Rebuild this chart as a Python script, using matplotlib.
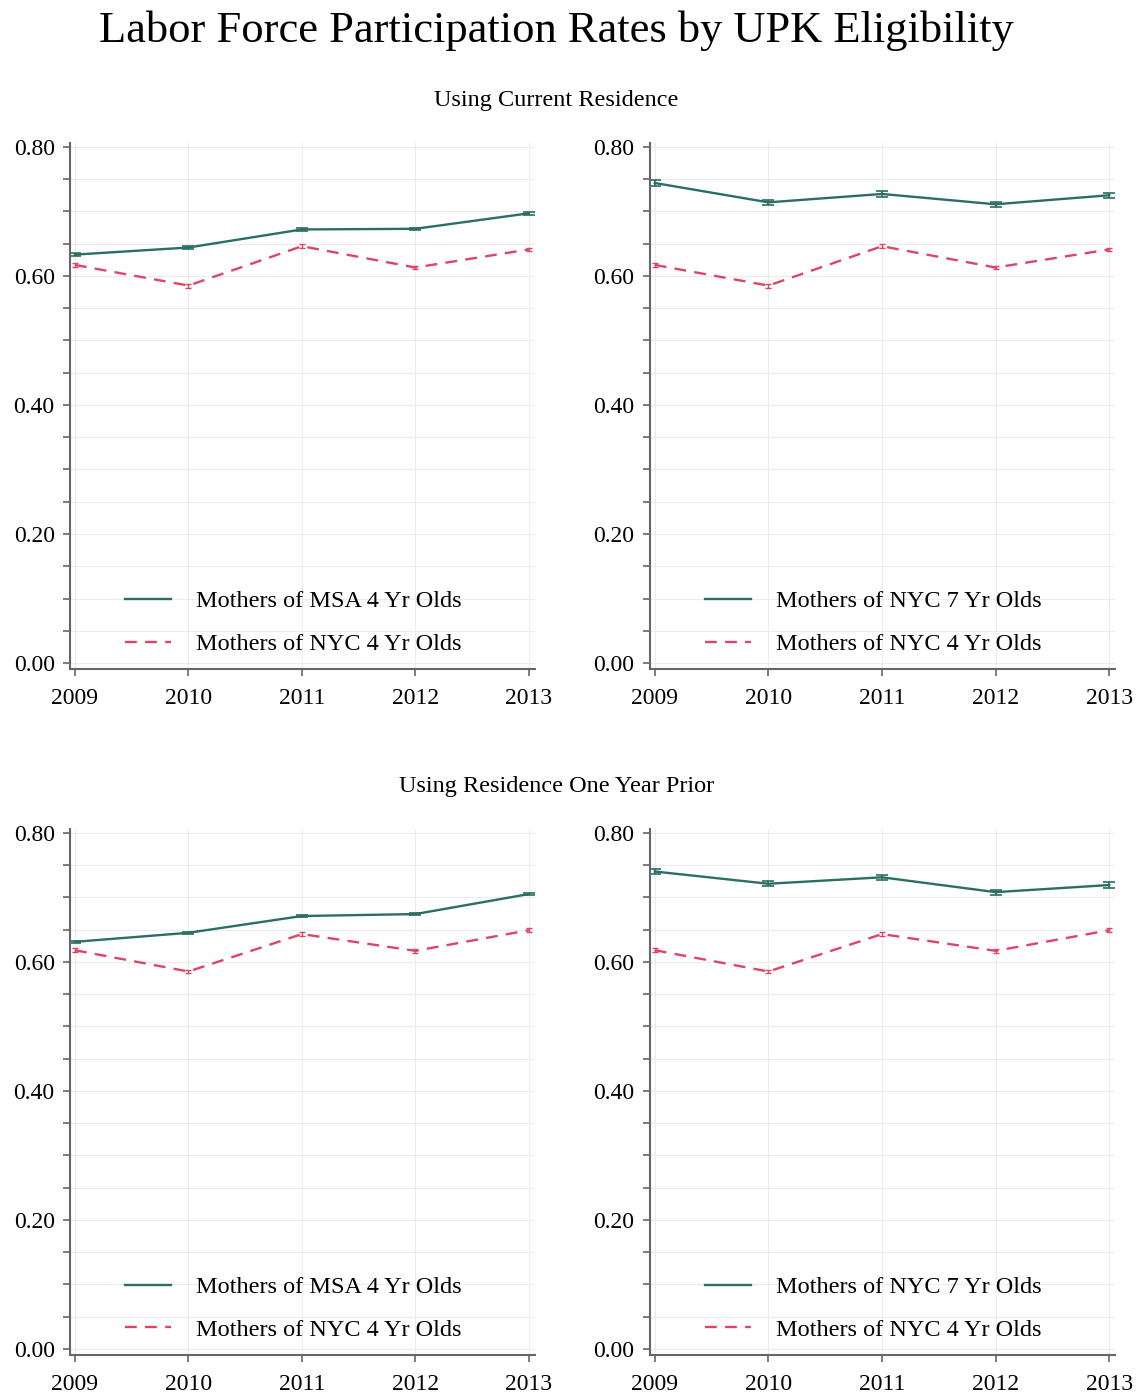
import numpy as np
import matplotlib
matplotlib.use("Agg")
import matplotlib.pyplot as plt

plt.rcParams['font.family'] = ['Liberation Serif', 'DejaVu Serif']

years = [2009, 2010, 2011, 2012, 2013]

# Using current residence
cur_msa4 = [0.633, 0.644, 0.672, 0.673, 0.697]
cur_nyc7 = [0.744, 0.714, 0.727, 0.711, 0.725]
cur_nyc4 = [0.617, 0.585, 0.646, 0.613, 0.641]

# Using residence one year prior
pri_msa4 = [0.631, 0.645, 0.671, 0.674, 0.705]
pri_nyc7 = [0.740, 0.721, 0.731, 0.708, 0.719]
pri_nyc4 = [0.618, 0.585, 0.643, 0.617, 0.649]

# approximate standard errors (half-widths of the bars)
err_msa4 = [0.002, 0.002, 0.002, 0.002, 0.002]
err_nyc7 = [0.004, 0.004, 0.004, 0.004, 0.004]
err_nyc4 = [0.003, 0.003, 0.003, 0.003, 0.003]

teal = '#2b6e64'
red = '#de4564'
spine_col = '#666666'

fig = plt.figure(figsize=(11.38, 13.95), dpi=100)

fig.text(0.489, 0.978, 'Labor Force Participation Rates by UPK Eligibility',
         ha='center', va='center', fontsize=32)
fig.text(0.489, 0.928, 'Using Current Residence', ha='center', va='center', fontsize=17.5)
fig.text(0.489, 0.436, 'Using Residence One Year Prior', ha='center', va='center', fontsize=17.5)

rects = [
    [0.0615, 0.5204, 0.4085, 0.3771],
    [0.571, 0.5204, 0.409, 0.3771],
    [0.0615, 0.0287, 0.4085, 0.3771],
    [0.571, 0.0287, 0.409, 0.3771],
]
panels = [
    (cur_msa4, err_msa4, 'Mothers of MSA 4 Yr Olds', cur_nyc4),
    (cur_nyc7, err_nyc7, 'Mothers of NYC 7 Yr Olds', cur_nyc4),
    (pri_msa4, err_msa4, 'Mothers of MSA 4 Yr Olds', pri_nyc4),
    (pri_nyc7, err_nyc7, 'Mothers of NYC 7 Yr Olds', pri_nyc4),
]

for rect, (treat, terr, tlabel, nyc4) in zip(rects, panels):
    ax = fig.add_axes(rect)
    ax.errorbar(years, treat, yerr=terr, color=teal, lw=1.7, capsize=4,
                elinewidth=1.2, capthick=1.2, label=tlabel)
    ax.errorbar(years, nyc4, yerr=err_nyc4, color=red, lw=1.7, capsize=2.5,
                elinewidth=1.0, capthick=1.0, dashes=(5, 3.5),
                label='Mothers of NYC 4 Yr Olds')

    ax.set_xlim(2008.956, 2013.053)
    ax.set_ylim(-0.0093, 0.806)
    ax.set_xticks(years)
    ax.set_xticklabels([str(y) for y in years])
    ax.set_yticks([0.0, 0.2, 0.4, 0.6, 0.8])
    ax.set_yticklabels(['0.00', '0.20', '0.40', '0.60', '0.80'])
    ax.set_yticks(np.arange(0.05, 0.8, 0.05), minor=True)

    ax.grid(True, which='both', color='#ececec', lw=0.8)
    ax.set_axisbelow(True)
    for side in ['top', 'right']:
        ax.spines[side].set_visible(False)
    for side in ['left', 'bottom']:
        ax.spines[side].set_color(spine_col)
        ax.spines[side].set_linewidth(1.5)
    ax.tick_params(axis='both', which='both', direction='out', length=5,
                   width=1.2, color=spine_col, labelsize=17, pad=6)
    ax.tick_params(axis='x', pad=9)

    handles, labels = ax.get_legend_handles_labels()
    handles = [h[0] for h in handles]
    ax.legend(handles, labels, loc='lower center', bbox_to_anchor=(0.48, -0.015),
              frameon=False, fontsize=17.5, handlelength=1.9, handletextpad=1.0,
              labelspacing=0.85)

fig.savefig('out.png', dpi=100, facecolor='white')
